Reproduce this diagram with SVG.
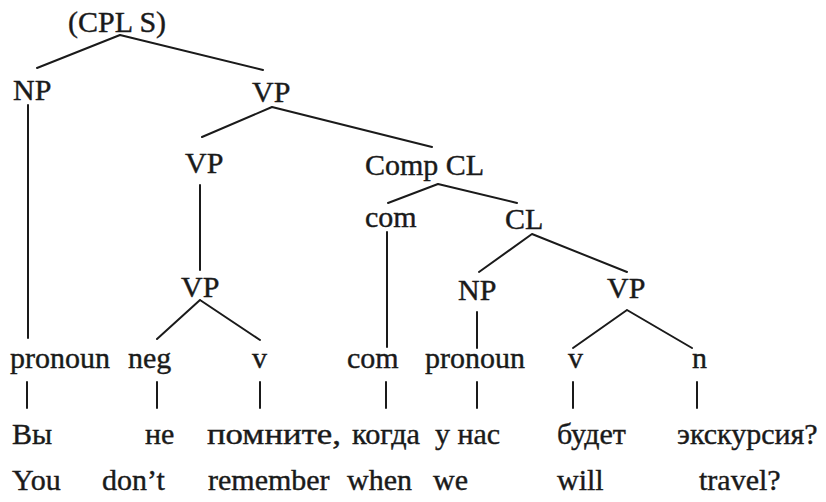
<svg xmlns="http://www.w3.org/2000/svg" width="826" height="502" viewBox="0 0 826 502">
<style>
.t text{font-size:30px;fill:#1a1a1a;stroke:#1a1a1a;stroke-width:0.4}
.e{stroke:#1a1a1a;stroke-width:2;fill:none;stroke-linecap:round}
</style>
<rect width="826" height="502" fill="#ffffff"/>
<g id="connectors" class="e">
<path d="M120 35L37 68M120 35L263 70"/>
<path d="M28 105V338"/>
<path d="M272 107L202 137M272 107L432 147"/>
<path d="M200 185V270"/>
<path d="M200 300L157 339M200 300L260 340"/>
<path d="M438 184L388 203M438 184L517 203"/>
<path d="M387 232V347"/>
<path d="M532 234L479 272M532 234L627 272"/>
<path d="M477 312V348"/>
<path d="M627 310L573 348M627 310L692 348"/>
<path d="M27 382V408M157 382V408M260 382V408M386 382V408M477 382V408M573 382V408M697 382V408"/>
</g>
<g class="t" font-family="'Liberation Serif', 'DejaVu Serif', serif">
<g id="n-cpls"><text x="68" y="32">(CPL S)</text></g>
<g id="n-np1"><text x="13" y="100">NP</text></g>
<g id="n-vp1"><text x="252" y="102">VP</text></g>
<g id="n-vp2"><text x="185" y="173">VP</text></g>
<g id="n-compcl"><text x="365" y="175">Comp CL</text></g>
<g id="n-com1"><text x="365" y="227">com</text></g>
<g id="n-cl"><text x="505" y="229">CL</text></g>
<g id="n-vp3"><text x="181" y="297">VP</text></g>
<g id="n-np2"><text x="458" y="300">NP</text></g>
<g id="n-vp4"><text x="607" y="298">VP</text></g>
<g id="n-pron1"><text x="10" y="368">pronoun</text></g>
<g id="n-neg"><text x="128" y="368">neg</text></g>
<g id="n-v1"><text x="252" y="368">v</text></g>
<g id="n-com2"><text x="347" y="368">com</text></g>
<g id="n-pron2"><text x="425" y="368">pronoun</text></g>
<g id="n-v2"><text x="568" y="368">v</text></g>
<g id="n-n"><text x="692" y="368">n</text></g>
<g id="words-ru">
<text x="12" y="444">Вы</text>
<text x="145" y="444">не</text>
<text x="207" y="444" textLength="134" lengthAdjust="spacingAndGlyphs">помните,</text>
<text x="352" y="444" textLength="68" lengthAdjust="spacingAndGlyphs">когда</text>
<text x="435" y="444">у нас</text>
<text x="557" y="444">будет</text>
<text x="677" y="444">экскурсия?</text>
</g>
<g id="words-en">
<text x="12" y="490">You</text>
<text x="102" y="490">don’t</text>
<text x="208" y="490">remember</text>
<text x="347" y="490">when</text>
<text x="433" y="490">we</text>
<text x="557" y="490">will</text>
<text x="699" y="490">travel?</text>
</g>
</g>
</svg>
